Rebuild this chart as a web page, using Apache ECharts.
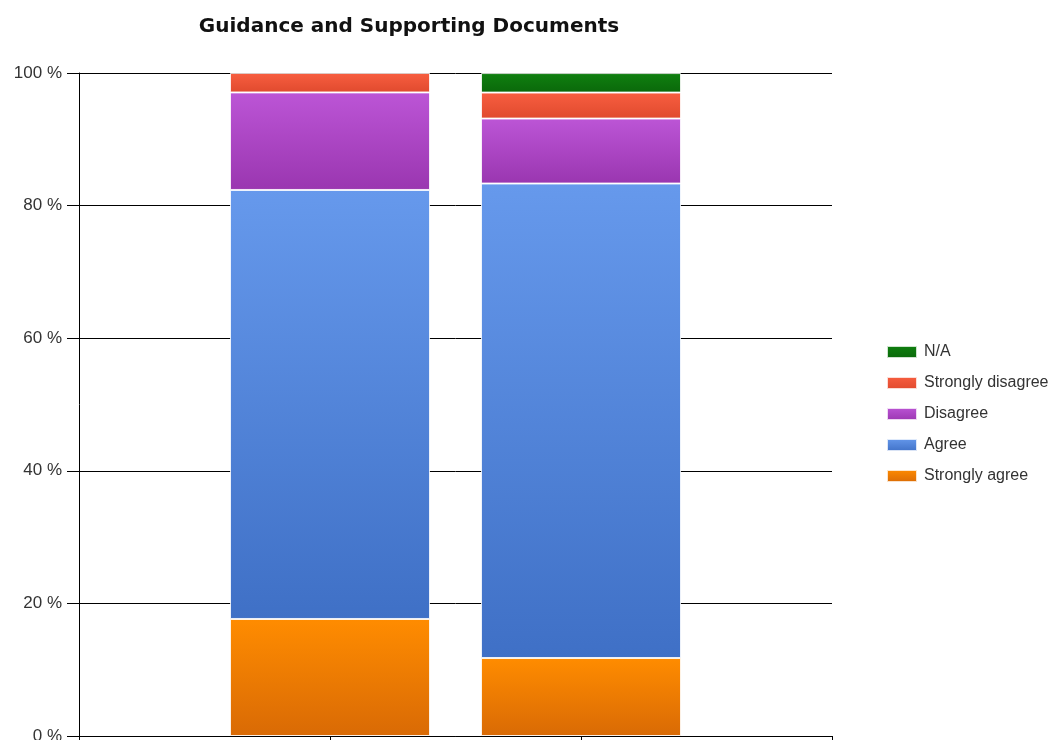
<!DOCTYPE html>
<html>
<head>
<meta charset="utf-8">
<script src="https://cdn.jsdelivr.net/npm/echarts@6/dist/echarts.min.js"></script>
<style>
html,body{margin:0;padding:0;background:#fff;}
#chart{width:1053px;height:740px;}
</style>
</head>
<body>
<div id="chart"></div>
<script>
// Data (empty slots at both ends of the category axis pad the plot)
const categories = ['', 'Group 1', 'Group 2', ''];
const stronglyAgree = [null, 17.65, 11.76, null];
const agree = [null, 64.71, 71.57, null];
const disagree = [null, 14.71, 9.80, null];
const stronglyDisagree = [null, 2.94, 3.92, null];
const na = [null, 0, 2.94, null];
const yTicks = [0, 20, 40, 60, 80, 100];
const legendOrder = ['N/A', 'Strongly disagree', 'Disagree', 'Agree', 'Strongly agree'];

function grad(top, bottom) {
  return {type: 'linear', x: 0, y: 0, x2: 0, y2: 1,
    colorStops: [{offset: 0, color: top}, {offset: 1, color: bottom}]};
}

const seriesDefs = [
  {name: 'Strongly agree', data: stronglyAgree, c: grad('#FF8C00', '#D96A05')},
  {name: 'Agree', data: agree, c: grad('#6699EC', '#3F70C6')},
  {name: 'Disagree', data: disagree, c: grad('#BC55D6', '#9A36B0')},
  {name: 'Strongly disagree', data: stronglyDisagree, c: grad('#F85E40', '#E04A2E')},
  {name: 'N/A', data: na, c: grad('#108010', '#0A680A')}
];

const chart = echarts.init(document.getElementById('chart'), null, {renderer: 'canvas'});
chart.setOption({
  animation: false,
  backgroundColor: '#fff',
  title: {
    text: 'Guidance and Supporting Documents',
    left: 404, top: 12, textAlign: 'center',
    textStyle: {fontFamily: 'DejaVu Sans', fontWeight: 'bold', fontSize: 20, color: '#111'}
  },
  legend: {
    orient: 'vertical', left: 881, top: 339,
    data: legendOrder,
    itemWidth: 30, itemHeight: 12, itemGap: 15,
    icon: 'rect',
    textStyle: {fontFamily: 'Liberation Sans', fontSize: 16, color: '#333', padding: [0, 0, 0, 2]}
  },
  grid: {left: 79, right: 221, top: 73, bottom: 4, containLabel: false, outerBoundsMode: 'none'},
  xAxis: {
    type: 'category', data: categories, boundaryGap: false,
    axisLine: {show: true, lineStyle: {color: '#000', width: 1}},
    axisTick: {show: true, length: 6, lineStyle: {color: '#000'}},
    axisLabel: {show: false},
    splitLine: {show: false}
  },
  yAxis: {
    type: 'value', min: yTicks[0], max: yTicks[yTicks.length - 1], interval: 20,
    axisLine: {show: true, lineStyle: {color: '#000', width: 1}},
    axisTick: {show: true, length: 12, lineStyle: {color: '#000'}},
    axisLabel: {formatter: '{value} %', margin: 17, fontFamily: 'Liberation Sans', fontSize: 17, color: '#333'},
    splitLine: {show: true, lineStyle: {color: '#000', width: 1}}
  },
  series: seriesDefs.map(s => ({
    name: s.name, type: 'bar', stack: 'total', barWidth: 200,
    data: s.data,
    itemStyle: {color: s.c, borderColor: 'rgba(255,255,255,0.8)', borderWidth: 1},
    emphasis: {disabled: true}
  }))
});
</script>
</body>
</html>
